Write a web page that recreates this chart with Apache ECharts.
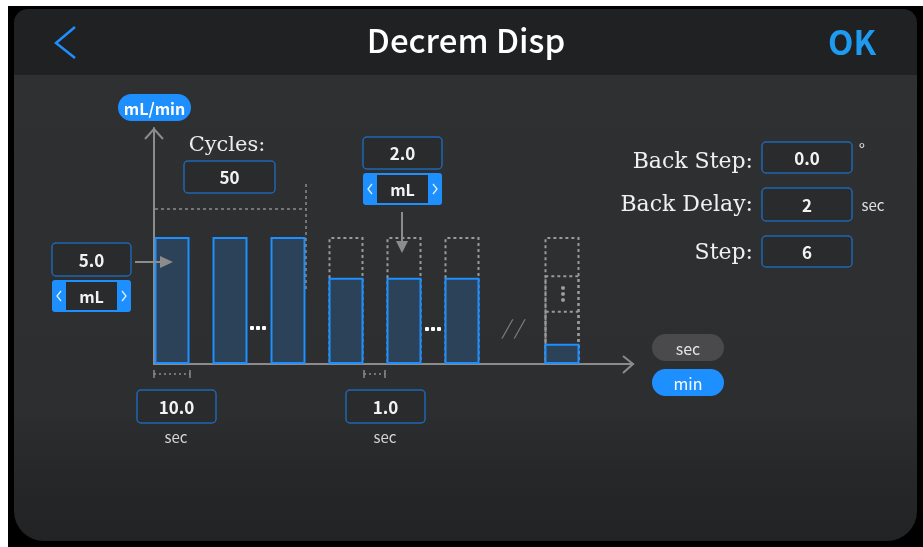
<!DOCTYPE html>
<html>
<head>
<meta charset="utf-8">
<title>Decrem Disp</title>
<script src="https://cdn.jsdelivr.net/npm/echarts@6/dist/echarts.min.js"></script>
<style>
  html, body { margin: 0; padding: 0; background: #fff; }
  #chart { width: 923px; height: 547px; }
</style>
</head>
<body>
<div id="chart"></div>
<script>
// data
const slots = [18, 76, 134, 192, 250, 308, 408];          // position on the time line
const dispensed = [5, 5, 5, 3.4, 3.4, 3.4, 0.8];            // filled part of each bar
const ghostTop = [null, null, null, 5, 5, 5, 5];            // dotted outline (original height)
const ghostStep1 = [null, null, null, null, null, null, 3.5];
const ghostStep2 = [null, null, null, null, null, null, 2.1];
const yMax = 9.3;
const xMax = 479;

const BLUE = "#1e8fff";
const BOX_BORDER = "#1f67b2";
const BOX_FILL = "#2a2b2d";
const GREY = "#8c8c8c";
const SANS = '"Noto Sans CJK SC", "Noto Sans", sans-serif';
const SERIF = '"DejaVu Serif", serif';

const pairs = (ys) => slots.map((x, i) => (ys[i] == null ? null : [x, ys[i]])).filter(Boolean);

// graphic helpers
const g = [];
function rect(x, y, w, h, fill, stroke, r, z, lw) {
  g.push({ type: "rect", z: z == null ? 10 : z, shape: { x, y, width: w, height: h, r: r || 0 },
    style: { fill: fill || "none", stroke: stroke || "none", lineWidth: lw || 1.5 } });
}
function text(x, y, s, font, fill, align, z) {
  g.push({ type: "text", z: z == null ? 11 : z, x, y,
    style: { text: s, font, fill, align: align || "center", verticalAlign: "middle" } });
}
function line(pts, stroke, lw, dash) {
  g.push({ type: "polyline", z: 10, shape: { points: pts },
    style: { stroke, lineWidth: lw || 2, lineDash: dash || null, fill: "none" } });
}
function tri(pts, fill) {
  g.push({ type: "polygon", z: 10, shape: { points: pts }, style: { fill } });
}
function dots(cx, cy, vertical, color) {
  [-1, 0, 1].forEach((k) => {
    g.push({ type: "rect", z: 10,
      shape: vertical ? { x: cx - 1.75, y: cy + k * 6 - 1.75, width: 3.5, height: 3.5, r: 1 }
                      : { x: cx + k * 6 - 2, y: cy - 2, width: 4, height: 4, r: 1 },
      style: { fill: color } });
  });
}
function box(x, y, w, h, s) {
  rect(x, y, w, h, BOX_FILL, BOX_BORDER, 4);
  text(x + w / 2, y + h / 2 + 1, s, "bold 17px " + SANS, "#f2f2f2");
}
function selector(x, y, w, h, s) {
  rect(x, y, w, h, BLUE, null, 3);
  rect(x + 14, y + 2, w - 28, h - 4, BOX_FILL, null, 0);
  line([[x + 9, y + h / 2 - 5], [x + 5, y + h / 2], [x + 9, y + h / 2 + 5]], "#dcefff", 1.3);
  line([[x + w - 9, y + h / 2 - 5], [x + w - 5, y + h / 2], [x + w - 9, y + h / 2 + 5]], "#dcefff", 1.3);
  text(x + w / 2, y + h / 2 + 1, s, "bold 16px " + SANS, "#f2f2f2");
}
function pill(x, y, w, h, fill, s, color, bold) {
  rect(x, y, w, h, fill, null, h / 2);
  text(x + w / 2, y + h / 2 + 1, s, (bold ? "bold " : "") + "16px " + SANS, color);
}
function dimMark(x1, x2, y) {
  line([[x1, y - 4], [x1, y + 4]], GREY, 1.5);
  line([[x2, y - 4], [x2, y + 4]], GREY, 1.5);
  line([[x1, y], [x2, y]], GREY, 1.5, [2, 3]);
}

// frame and panel
rect(8, 6, 915, 541, "#000", null, 0, -20);
g.push({ type: "rect", z: -19, shape: { x: 14, y: 75, width: 903, height: 466, r: [0, 0, 30, 30] },
  style: { fill: new echarts.graphic.LinearGradient(0, 0, 0, 1, [
    { offset: 0, color: "#2f3032" }, { offset: 0.72, color: "#2d2e30" },
    { offset: 0.86, color: "#262729" }, { offset: 1, color: "#222325" }]) } });
g.push({ type: "rect", z: -19, shape: { x: 14, y: 9, width: 903, height: 66, r: [14, 14, 0, 0] },
  style: { fill: "#202123" } });

// header
line([[75, 27], [56, 43], [75, 58]], BLUE, 2.5);
text(466, 40, "Decrem Disp", "500 33px " + SANS, "#ffffff");
text(852, 42, "OK", "bold 33px " + SANS, "#1e9bf0");

// axis arrows and unit pill
line([[145, 139], [154, 129], [163, 139]], GREY, 2);
line([[623, 356], [633, 364], [623, 373]], GREY, 2);
pill(118, 94, 73, 27, BLUE, "mL/min", "#ffffff", true);

// cycles
text(227, 146, "Cycles:", "21px " + SERIF, "#ececec");
box(184, 161, 91, 32, "50");
line([[155, 209], [306, 209]], GREY, 1.5, [3, 3]);
line([[306, 184], [306, 292]], GREY, 1.5, [3, 3]);

// start volume
box(52, 243, 79, 33, "5.0");
selector(52, 280, 79, 32, "mL");
line([[135, 262], [161, 262]], GREY, 2);
tri([[160, 256], [173, 262], [160, 268]], GREY);

// decrement volume
box(363, 137, 79, 32, "2.0");
selector(363, 173, 79, 32, "mL");
line([[402, 212], [402, 242]], GREY, 2);
tri([[396, 241], [402, 253], [408, 241]], GREY);

// ellipses and break
dots(258, 328, false, "#ffffff");
dots(433, 329, false, "#ffffff");
dots(563, 294, true, "#a0a0a0");
text(512, 327, "/ /", "italic 20px " + SANS, "#7d7d7d");

// timing dimensions
dimMark(154, 190, 374);
dimMark(364, 385, 374);
box(137, 390, 79, 33, "10.0");
text(176, 437, "sec", "15px " + SANS, "#d6d6d6");
box(346, 390, 79, 33, "1.0");
text(385, 437, "sec", "15px " + SANS, "#d6d6d6");

// time unit switch
pill(652, 334, 72, 27, "#4a4a4c", "sec", "#e4e4e4");
pill(652, 369, 72, 27, BLUE, "min", "#ffffff");

// right settings
text(753, 162, "Back Step:", "22px " + SERIF, "#f0f0f0", "right");
box(762, 142, 90, 31, "0.0");
text(862, 150, "°", "17px " + SANS, "#e0e0e0");
text(753, 205, "Back Delay:", "22px " + SERIF, "#f0f0f0", "right");
box(762, 188, 90, 33, "2");
text(873, 205, "sec", "15px " + SANS, "#e0e0e0");
text(753, 253, "Step:", "22px " + SERIF, "#f0f0f0", "right");
box(762, 236, 90, 31, "6");

const chart = echarts.init(document.getElementById("chart"));

const ghostStyle = {
  color: "transparent",
  borderColor: "#9a9a9a",
  borderWidth: 2,
  borderType: [3, 3],
};

const options = {
  animation: false,
  grid: { left: 154, right: 290, top: 128, bottom: 183 },
  xAxis: {
    type: "value", min: 0, max: xMax,
    axisLine: { lineStyle: { color: GREY, width: 2 } },
    axisTick: { show: false }, axisLabel: { show: false }, splitLine: { show: false },
  },
  yAxis: {
    type: "value", min: 0, max: yMax,
    axisLine: { show: true, lineStyle: { color: GREY, width: 2 } },
    axisTick: { show: false }, axisLabel: { show: false }, splitLine: { show: false },
  },
  graphic: { elements: g },
  series: [
    { name: "ghost", type: "bar", barWidth: 35, barGap: "-100%", z: 2,
      data: pairs(ghostTop), itemStyle: ghostStyle },
    { name: "ghostStep1", type: "bar", barWidth: 35, barGap: "-100%", z: 2,
      data: pairs(ghostStep1), itemStyle: ghostStyle },
    { name: "ghostStep2", type: "bar", barWidth: 35, barGap: "-100%", z: 2,
      data: pairs(ghostStep2), itemStyle: ghostStyle },
    { name: "dispensed", type: "bar", barWidth: 35, barGap: "-100%", z: 3,
      data: pairs(dispensed),
      itemStyle: { color: "#2b4258", borderColor: BLUE, borderWidth: 2 } },
  ],
};
chart.setOption(options);
</script>
</body>
</html>
